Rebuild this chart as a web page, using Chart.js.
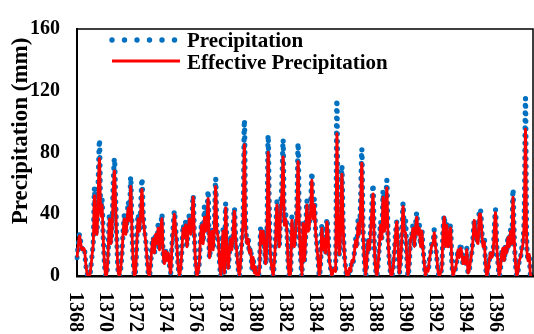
<!DOCTYPE html>
<html>
<head>
<meta charset="utf-8">
<script src="https://cdn.jsdelivr.net/npm/chart.js@4.4.1/dist/chart.umd.min.js"></script>
<style>
  html, body { margin: 0; padding: 0; background: #fff; }
  #wrap { width: 534px; height: 334px; }
</style>
</head>
<body>
<div id="wrap"><canvas id="precipChart"></canvas></div>
<script>
const startYear = 1368;
const tickYears = ['1368', '1370', '1372', '1374', '1376', '1378', '1380', '1382',
  '1384', '1386', '1388', '1390', '1392', '1394', '1396'];

// monthly precipitation (mm)
const precipitation = [
  12, 20, 27, 22, 18, 19, 17, 8, 2, 0, 0, 5,
  13, 22, 57, 30, 28, 62, 88, 42, 50, 25, 8, 0,
  2, 18, 40, 22, 30, 60, 76, 48, 20, 2, 0, 5,
  15, 30, 40, 28, 36, 48, 38, 64, 30, 10, 0, 4,
  25, 40, 30, 45, 63, 40, 30, 23, 12, 2, 0, 8,
  20, 25, 15, 28, 22, 33, 18, 30, 40, 14, 8, 16,
  10, 15, 7, 2, 20, 32, 42, 30, 20, 6, 0, 5,
  18, 33, 26, 35, 20, 30, 40, 28, 38, 52, 25, 8,
  0, 3, 10, 28, 35, 22, 45, 30, 40, 55, 12, 20,
  30, 18, 35, 63, 30, 26, 10, 0, 15, 30, 2, 47,
  20, 5, 15, 25, 18, 30, 44, 25, 15, 5, 0, 10,
  24, 40, 101, 35, 22, 25, 15, 18, 5, 12, 2, 6,
  0, 0, 3, 31, 22, 30, 20, 8, 25, 91, 40, 12,
  5, 0, 10, 25, 48, 30, 20, 45, 60, 88, 35, 40,
  30, 8, 0, 2, 38, 25, 20, 30, 45, 86, 30, 12,
  0, 36, 10, 25, 49, 30, 35, 45, 67, 40, 50, 30,
  20, 10, 0, 8, 33, 18, 25, 15, 37, 28, 10, 5,
  0, 3, 5, 3, 114, 40, 14, 30, 71, 35, 15, 5,
  0, 0, 5, 3, 10, 9, 15, 24, 20, 36, 28, 50,
  82, 30, 10, 0, 10, 24, 18, 30, 45, 59, 20, 5,
  0, 8, 20, 35, 25, 55, 30, 40, 62, 25, 10, 2,
  0, 5, 15, 28, 35, 20, 2, 10, 25, 47, 30, 36,
  12, 0, 8, 25, 27, 33, 20, 33, 41, 28, 33, 20,
  30, 18, 8, 0, 5, 3, 10, 15, 21, 22, 30, 20,
  12, 3, 0, 2, 5, 30, 39, 20, 35, 20, 25, 33,
  10, 0, 3, 5, 10, 17, 12, 21, 15, 8, 12, 8,
  18, 2, 4, 10, 15, 25, 36, 30, 24, 22, 43, 43,
  30, 20, 25, 8, 0, 3, 10, 15, 12, 15, 30, 43,
  20, 8, 0, 5, 15, 18, 10, 20, 15, 26, 20, 30,
  22, 56, 25, 8, 0, 3, 10, 12, 18, 22, 40, 115,
  22, 10, 14, 0, 0, 0,
];

// effective precipitation (mm)
const effectivePrecipitation = [
  12, 19, 26, 21, 17, 18, 17, 8, 2, 0, 0, 5,
  13, 21, 52, 29, 27, 56, 76, 39, 46, 24, 8, 0,
  2, 17, 37, 21, 29, 54, 68, 44, 19, 2, 0, 5,
  15, 29, 37, 27, 34, 44, 36, 58, 29, 10, 0, 4,
  24, 37, 29, 42, 56, 37, 29, 22, 12, 2, 0, 8,
  19, 24, 15, 27, 21, 31, 17, 29, 37, 14, 8, 16,
  10, 15, 7, 2, 19, 30, 40, 29, 19, 6, 0, 5,
  17, 31, 25, 33, 19, 29, 37, 27, 36, 51, 24, 8,
  0, 3, 10, 27, 33, 21, 38, 29, 37, 50, 12, 19,
  29, 17, 33, 58, 29, 25, 10, 0, 15, 29, 2, 44,
  19, 5, 15, 24, 17, 29, 42, 24, 15, 5, 0, 10,
  23, 37, 85, 33, 21, 24, 15, 17, 5, 12, 2, 6,
  0, 0, 3, 29, 21, 29, 19, 8, 24, 80, 37, 12,
  5, 0, 10, 24, 46, 29, 19, 42, 54, 77, 33, 37,
  29, 8, 0, 2, 36, 24, 19, 29, 42, 74, 29, 12,
  0, 34, 10, 24, 46, 29, 33, 42, 62, 37, 46, 29,
  19, 10, 0, 8, 31, 17, 24, 15, 35, 27, 10, 5,
  0, 3, 5, 3, 92, 37, 14, 29, 66, 33, 15, 5,
  0, 0, 5, 3, 10, 9, 15, 23, 19, 34, 27, 46,
  73, 29, 10, 0, 10, 23, 17, 29, 42, 53, 19, 5,
  0, 8, 19, 33, 24, 51, 29, 37, 57, 24, 10, 2,
  0, 5, 15, 27, 35, 19, 2, 10, 24, 45, 29, 28,
  12, 0, 8, 24, 26, 31, 19, 31, 38, 27, 31, 19,
  29, 17, 8, 0, 5, 3, 10, 15, 20, 21, 28, 19,
  12, 3, 0, 2, 5, 29, 38, 19, 33, 19, 24, 31,
  10, 0, 3, 5, 10, 17, 12, 18, 15, 8, 12, 8,
  17, 2, 4, 10, 15, 24, 36, 29, 23, 21, 40, 40,
  29, 19, 22, 8, 0, 3, 10, 15, 12, 15, 29, 41,
  19, 8, 0, 5, 15, 18, 10, 19, 15, 25, 19, 29,
  21, 51, 24, 8, 0, 3, 10, 12, 17, 21, 37, 95,
  21, 10, 14, 0, 0, 0,
];

const monthLabels = [];
for (let i = 0; i < precipitation.length; i++) {
  monthLabels.push((startYear + Math.floor(i / 12)) + '-' + (i % 12 + 1));
}

const serif = '"Liberation Serif", "Times New Roman", serif';
const blue = '#0070C0';
const red = '#FF0000';

// year labels run top-to-bottom under the axis
const yearLabels = {
  id: 'yearLabels',
  afterDraw(chart) {
    const ctx = chart.ctx;
    const xScale = chart.scales.x;
    ctx.save();
    ctx.font = 'bold 20px ' + serif;
    ctx.fillStyle = '#000';
    ctx.textAlign = 'left';
    ctx.textBaseline = 'middle';
    tickYears.forEach(label => {
      const idx = monthLabels.indexOf(label + '-1');
      const px = xScale.getPixelForValue(idx);
      ctx.save();
      ctx.translate(px - 2, 292);
      ctx.rotate(Math.PI / 2);
      ctx.fillText(label, 0, 0);
      ctx.restore();
    });
    ctx.restore();
  },
};

// y title, box, legend
const decorations = {
  id: 'decorations',
  afterDraw(chart) {
    const ctx = chart.ctx;
    const a = chart.chartArea;
    ctx.save();
    // top + right frame
    ctx.strokeStyle = '#000';
    ctx.lineWidth = 1.5;
    ctx.beginPath();
    ctx.moveTo(a.left, a.top);
    ctx.lineTo(a.right, a.top);
    ctx.lineTo(a.right, a.bottom);
    ctx.stroke();

    // y title
    ctx.font = 'bold 23px ' + serif;
    ctx.fillStyle = '#000';
    ctx.textAlign = 'center';
    ctx.textBaseline = 'middle';
    ctx.save();
    ctx.translate(21, 131);
    ctx.rotate(-Math.PI / 2);
    ctx.fillText('Precipitation (mm)', 0, 0);
    ctx.restore();

    // legend
    ctx.fillStyle = blue;
    for (let k = 0; k < 6; k++) {
      ctx.beginPath();
      ctx.arc(112 + k * 12.5, 40, 2.7, 0, Math.PI * 2);
      ctx.fill();
    }
    ctx.strokeStyle = red;
    ctx.lineWidth = 2.8;
    ctx.beginPath();
    ctx.moveTo(112, 61);
    ctx.lineTo(180, 61);
    ctx.stroke();
    ctx.font = 'bold 21px ' + serif;
    ctx.fillStyle = '#000';
    ctx.textAlign = 'left';
    ctx.textBaseline = 'alphabetic';
    ctx.fillText('Precipitation', 187, 47);
    ctx.fillText('Effective Precipitation', 187, 69);
    ctx.restore();
  },
};

new Chart(document.getElementById('precipChart'), {
  type: 'line',
  data: {
    labels: monthLabels,
    datasets: [
      {
        label: 'Effective Precipitation',
        data: effectivePrecipitation,
        borderColor: red,
        borderWidth: 2.8,
        pointRadius: 0,
        tension: 0.3,
        order: 0,
      },
      {
        label: 'Precipitation',
        data: precipitation,
        borderColor: blue,
        borderWidth: 5.2,
        borderDash: [0, 7.5],
        borderCapStyle: 'round',
        pointRadius: 0,
        tension: 0.3,
        order: 1,
      },
    ],
  },
  options: {
    responsive: true,
    maintainAspectRatio: false,
    animation: false,
    layout: { padding: { top: 17, right: 1, left: 0, bottom: 0 } },
    plugins: {
      legend: { display: false },
      tooltip: { enabled: false },
    },
    scales: {
      x: {
        ticks: { display: false },
        grid: { display: false, drawTicks: false },
        border: { display: true, color: '#000', width: 2.5 },
        afterFit(scale) { scale.height = 58; },
      },
      y: {
        min: 0,
        max: 160,
        ticks: {
          stepSize: 40,
          padding: 17,
          color: '#000',
          font: { family: serif, size: 20, weight: 'bold' },
        },
        grid: { display: false, drawTicks: false },
        border: { display: true, color: '#000', width: 2 },
        afterFit(scale) { scale.width = 77; },
      },
    },
  },
  plugins: [yearLabels, decorations],
});
</script>
</body>
</html>
